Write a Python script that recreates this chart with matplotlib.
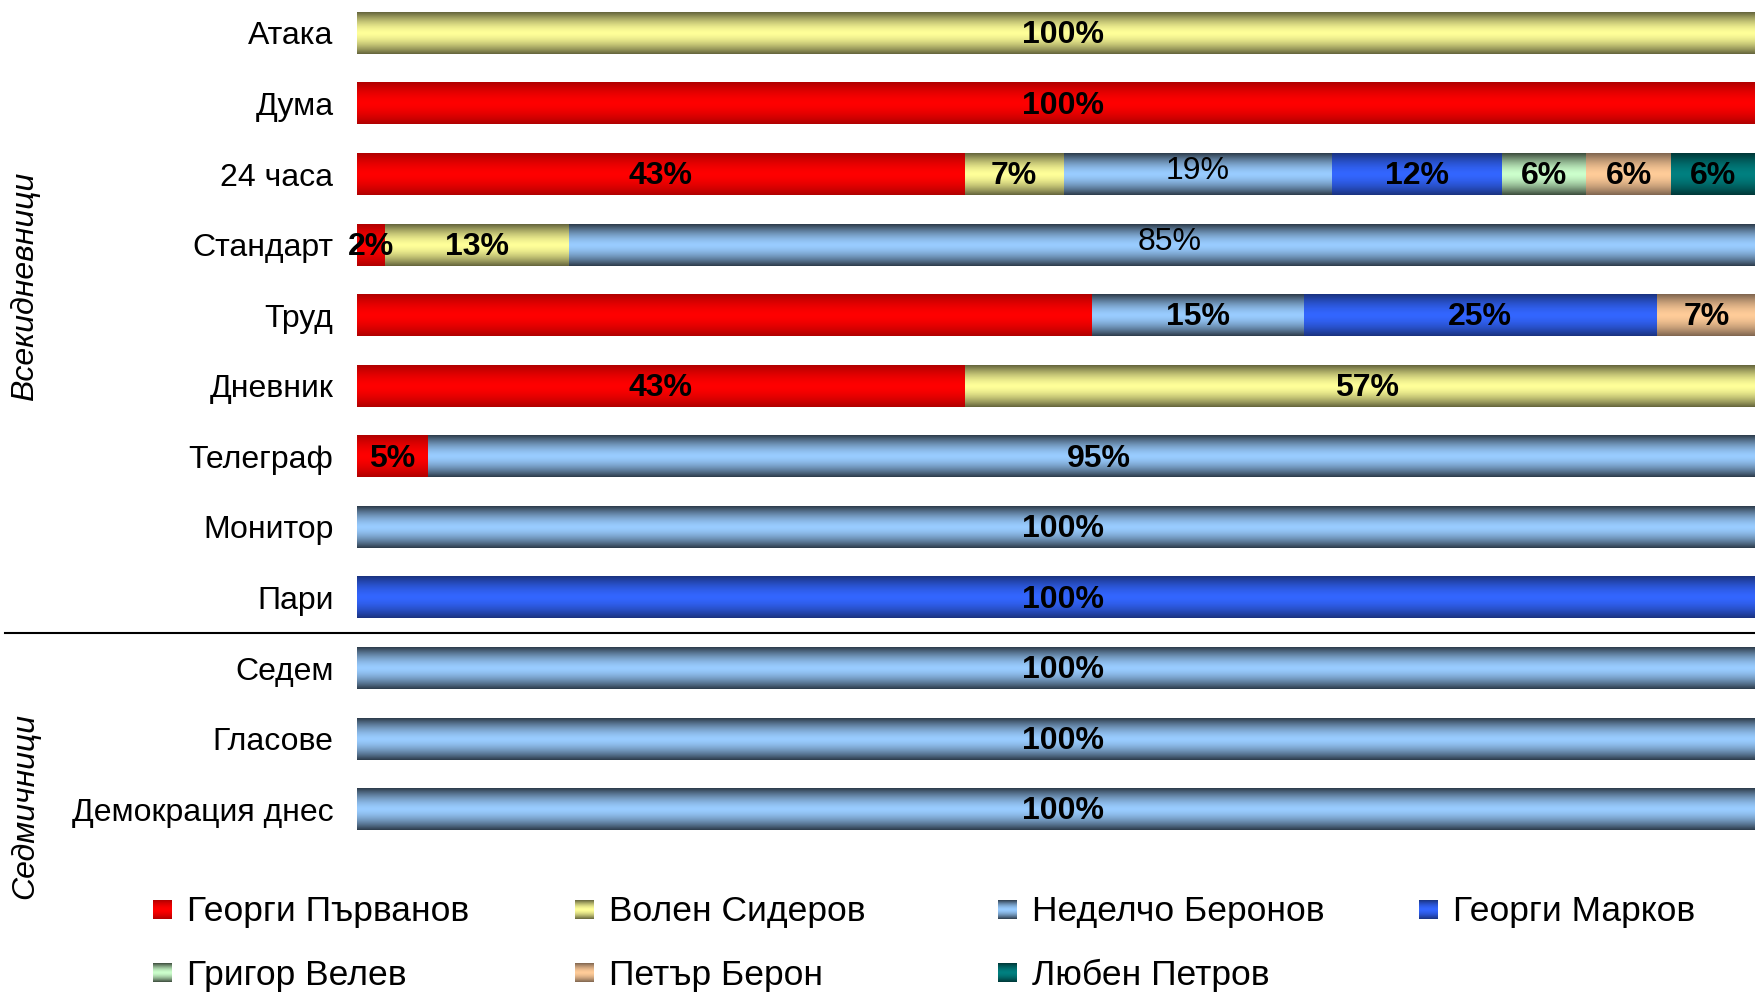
import numpy as np
import matplotlib.pyplot as plt
import matplotlib.transforms as mtransforms
from matplotlib.lines import Line2D
from matplotlib.colors import to_rgb

plt.rcParams['font.family'] = ['Liberation Sans', 'DejaVu Sans']

papers = ['Атака', 'Дума', '24 часа', 'Стандарт', 'Труд', 'Дневник', 'Телеграф',
          'Монитор', 'Пари', 'Седем', 'Гласове', 'Демокрация днес']

candidates = ['Георги Първанов', 'Волен Сидеров', 'Неделчо Беронов', 'Георги Марков',
              'Григор Велев', 'Петър Берон', 'Любен Петров']

# дял в % по вестници
parvanov = [0, 100, 43, 2, 52, 43, 5, 0, 0, 0, 0, 0]
siderov = [100, 0, 7, 13, 0, 57, 0, 0, 0, 0, 0, 0]
beronov = [0, 0, 19, 85, 15, 0, 95, 100, 0, 100, 100, 100]
markov = [0, 0, 12, 0, 25, 0, 0, 0, 100, 0, 0, 0]
velev = [0, 0, 6, 0, 0, 0, 0, 0, 0, 0, 0, 0]
beron = [0, 0, 6, 0, 7, 0, 0, 0, 0, 0, 0, 0]
petrov = [0, 0, 6, 0, 0, 0, 0, 0, 0, 0, 0, 0]

series = [parvanov, siderov, beronov, markov, velev, beron, petrov]

# цветове: център / ръб на градиента
centers = ['#FF0000', '#FFFF99', '#99CCFF', '#3366FF', '#CCFFCC', '#FFCC99', '#008080']
edges = ['#B00000', '#66663D', '#2E3D4C', '#1A3380', '#3D4D3D', '#806650', '#003838']

no_label = {('Труд', 0)}
thin_label = {('24 часа', 2), ('Стандарт', 2)}


def shade(center, edge, n=64):
    s = np.linspace(0, 1, n)
    t = np.abs(2 * s - 1) ** 1.6
    c = np.array(to_rgb(center))
    e = np.array(to_rgb(edge))
    return (c[None, :] * (1 - t[:, None]) + e[None, :] * t[:, None])[:, None, :]


W, H = 1755, 992
fig = plt.figure(figsize=(W / 100, H / 100), dpi=100)
# графиката продължава малко зад десния край на картинката
ax = fig.add_axes([357 / W, 1 - 846 / H, (1770 - 357) / W, 846 / H])

data = np.array(series, dtype=float)

y = np.arange(len(papers))
left = np.zeros(len(papers))
for i, name in enumerate(candidates):
    bars = ax.barh(y, data[i], left=left, height=0.59, color=centers[i],
                   edgecolor='none', zorder=1)
    img = shade(centers[i], edges[i])
    for j, b in enumerate(bars):
        if data[i, j] == 0:
            continue
        x0, y0 = b.get_x(), b.get_y()
        ax.imshow(img, extent=[x0, x0 + b.get_width(), y0 + b.get_height(), y0],
                  aspect='auto', interpolation='bilinear', zorder=2)
        if (papers[j], i) in no_label:
            continue
        thin = (papers[j], i) in thin_label
        ax.text(x0 + b.get_width() / 2, y[j] + (-0.04 if thin else 0.03),
                f'{int(data[i, j])}%', ha='center', va='center',
                fontsize=23, fontweight='normal' if thin else 'bold',
                color='black', zorder=3)
    left += data[i]

ax.set_xlim(0, 100)
ax.set_ylim(11.52, -0.467)
ax.set_yticks(y)
ax.set_yticklabels(papers, fontsize=23)
ax.tick_params(axis='y', length=0, pad=17)
ax.set_xticks([])
for sp in ax.spines.values():
    sp.set_visible(False)

# разделителна линия между групите
tr = mtransforms.blended_transform_factory(fig.transFigure, ax.transData)
fig.add_artist(Line2D([5 / W, 1], [8.5, 8.5], transform=tr, color='black', lw=1.5))

fig.text(25 / W, 1 - 286 / H, 'Всекидневници', rotation=90, style='italic',
         fontsize=23, ha='center', va='center')
fig.text(25 / W, 1 - 806 / H, 'Седмичници', rotation=90, style='italic',
         fontsize=23, ha='center', va='center')

# легенда
col_x = [153, 575, 998, 1419]
row_y = [909, 972]
for i, name in enumerate(candidates):
    cx = col_x[i % 4]
    cy = row_y[i // 4]
    m = fig.add_axes([cx / W, 1 - (cy + 10) / H, 19 / W, 19 / H])
    m.imshow(shade(centers[i], edges[i]), aspect='auto', interpolation='bilinear')
    m.axis('off')
    fig.text((cx + 34) / W, 1 - (cy + 3) / H, name, fontsize=25.5, ha='left', va='center')

fig.savefig('out.png', dpi=100)
